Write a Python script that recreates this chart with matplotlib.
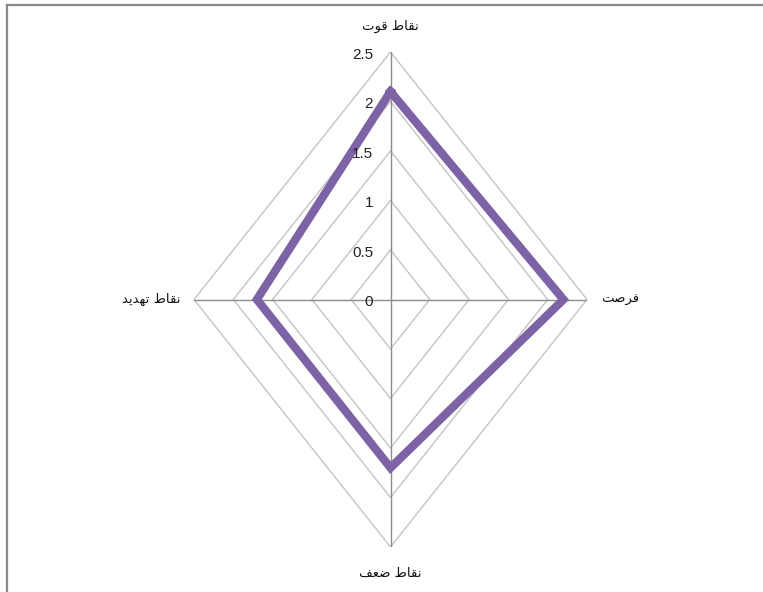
import numpy as np
import matplotlib
matplotlib.use("Agg")
import matplotlib.pyplot as plt
from matplotlib.lines import Line2D

# Datos del gráfico radar (sentido horario desde arriba)
categorias = ["نقاط قوت", "فرصت", "نقاط ضعف", "نقاط تهدید"]
valores = [2.1, 2.2, 1.7, 1.7]
niveles = [0.5, 1.0, 1.5, 2.0, 2.5]
etiquetas_eje = ["0", "0.5", "1", "1.5", "2", "2.5"]
rmax = 2.5

# Formas de presentación árabes: (aislada, final, inicial, medial)
formas = {
    "ا": ("\uFE8D", "\uFE8E", None, None),
    "ت": ("\uFE95", "\uFE96", "\uFE97", "\uFE98"),
    "د": ("\uFEA9", "\uFEAA", None, None),
    "ر": ("\uFEAD", "\uFEAE", None, None),
    "ص": ("\uFEB9", "\uFEBA", "\uFEBB", "\uFEBC"),
    "ض": ("\uFEBD", "\uFEBE", "\uFEBF", "\uFEC0"),
    "ط": ("\uFEC1", "\uFEC2", "\uFEC3", "\uFEC4"),
    "ع": ("\uFEC9", "\uFECA", "\uFECB", "\uFECC"),
    "ف": ("\uFED1", "\uFED2", "\uFED3", "\uFED4"),
    "ق": ("\uFED5", "\uFED6", "\uFED7", "\uFED8"),
    "ن": ("\uFEE5", "\uFEE6", "\uFEE7", "\uFEE8"),
    "ه": ("\uFEE9", "\uFEEA", "\uFEEB", "\uFEEC"),
    "و": ("\uFEED", "\uFEEE", None, None),
    "ی": ("\uFBFC", "\uFBFD", "\uFBFE", "\uFBFF"),
}


def une_sig(c):
    # la letra se une con la siguiente?
    return c in formas and formas[c][2] is not None


def reshape(texto):
    salida = []
    for i, c in enumerate(texto):
        if c not in formas:
            salida.append(c)
            continue
        prev = texto[i - 1] if i > 0 else " "
        nxt = texto[i + 1] if i < len(texto) - 1 else " "
        con_prev = une_sig(prev)
        con_next = une_sig(c) and nxt in formas
        iso, fin, ini, med = formas[c]
        if con_prev and con_next:
            salida.append(med)
        elif con_prev:
            salida.append(fin)
        elif con_next:
            salida.append(ini)
        else:
            salida.append(iso)
    return "".join(salida)[::-1]


W, H = 763, 592
fig = plt.figure(figsize=(W / 100, H / 100), dpi=100)
fig.patch.set_facecolor("white")

# ejes que cubren exactamente el anillo 2.5 (el radar no es circular)
cx, cy = 390.5, 299.5
rx, ry = 196.5, 247.5
ax = fig.add_axes([(cx - rx) / W, (H - cy - ry) / H, 2 * rx / W, 2 * ry / H])
ax.set_xlim(-rmax, rmax)
ax.set_ylim(-rmax, rmax)
ax.axis("off")

ang = np.pi / 2 - np.arange(len(categorias)) * 2 * np.pi / len(categorias)
ang_c = np.append(ang, ang[0])

# anillos de la cuadrícula
for r in niveles:
    ax.plot(r * np.cos(ang_c), r * np.sin(ang_c), color="#c4c4c4", lw=1.0, zorder=1)

# radios
for a in ang:
    ax.plot([0, rmax * np.cos(a)], [0, rmax * np.sin(a)], color="#8c8c8c", lw=1.0, zorder=2)

# serie
v = np.append(valores, valores[0])
ax.plot(v * np.cos(ang_c), v * np.sin(ang_c), color="#7d62a6", lw=6,
        solid_joinstyle="miter", zorder=3)

# etiquetas del eje radial
for r, t in zip([0.0] + niveles, etiquetas_eje):
    ax.annotate(t, (0, r), xytext=(-12.5, -2), textcoords="offset points",
                ha="right", va="center", fontsize=11, color="#222222",
                family="Liberation Sans")

# etiquetas de categorías
offs = [(0, 14, "center", "bottom"), (10, 0, "left", "center"),
        (0, -14, "center", "top"), (-10, 0, "right", "center")]
for a, cat, (dx, dy, ha, va) in zip(ang, categorias, offs):
    ax.annotate(reshape(cat), (rmax * np.cos(a), rmax * np.sin(a)),
                xytext=(dx, dy), textcoords="offset points",
                ha=ha, va=va, fontsize=9.5, color="#111111", family="DejaVu Sans")

# borde del área del gráfico
fig.add_artist(Line2D([7 / W, 1], [1 - 5 / H, 1 - 5 / H], color="#8a8a8a", lw=1.6))
fig.add_artist(Line2D([7 / W, 7 / W], [0, 1 - 5 / H], color="#8a8a8a", lw=1.6))

plt.savefig("out.png", dpi=100)
